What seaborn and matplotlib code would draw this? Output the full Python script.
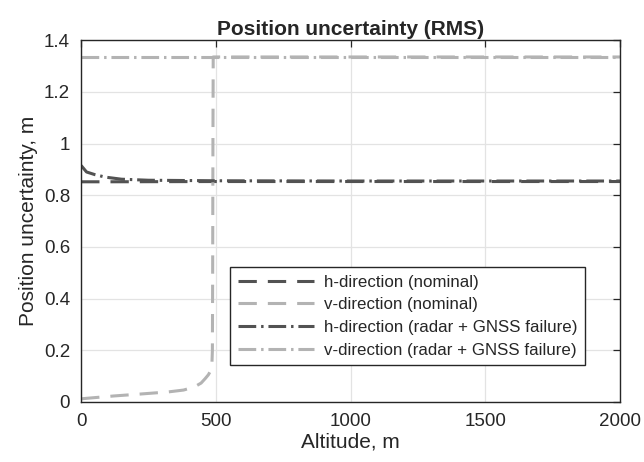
"""Position uncertainty (RMS) versus altitude."""

import matplotlib

matplotlib.use("Agg")
import matplotlib.pyplot as plt
import pandas as pd
import seaborn as sns

# altitude samples (m) and RMS uncertainty values
alt_h_nom = [0, 100, 500, 1000, 1500, 2000]
h_nom = [0.852, 0.852, 0.853, 0.853, 0.853, 0.853]

alt_v_nom = [0, 20, 120, 225, 325, 380, 420, 445, 460, 472, 480, 485, 487,
             488, 489, 490, 500, 1000, 1500, 2000]
v_nom = [0.012, 0.014, 0.023, 0.031, 0.039, 0.046, 0.058, 0.073, 0.09, 0.105,
         0.12, 0.14, 0.2, 0.5, 1.0, 1.335, 1.335, 1.335, 1.335, 1.335]

alt_h_fail = [0, 20, 50, 90, 150, 250, 500, 1000, 1500, 2000]
h_fail = [0.915, 0.89, 0.88, 0.87, 0.862, 0.858, 0.856, 0.855, 0.855, 0.855]

alt_v_fail = [0, 500, 1000, 1500, 2000]
v_fail = [1.335, 1.335, 1.335, 1.335, 1.335]

labels = [
    "h-direction (nominal)",
    "v-direction (nominal)",
    "h-direction (radar + GNSS failure)",
    "v-direction (radar + GNSS failure)",
]

sns.set_theme(style="white")
plt.rcParams["font.family"] = ["Liberation Sans", "DejaVu Sans"]

dark = "#525252"
light = "#b3b3b3"
dashed = (0, (6, 3.6))
dashdot = (0, (5.8, 1.6, 0.8, 1.6))
series = [
    (alt_h_nom, h_nom, labels[0], dark, dashed),
    (alt_v_nom, v_nom, labels[1], light, dashed),
    (alt_h_fail, h_fail, labels[2], dark, dashdot),
    (alt_v_fail, v_fail, labels[3], light, dashdot),
]

fig, ax = plt.subplots(figsize=(6.44, 4.62), dpi=100)
fig.subplots_adjust(left=0.126, right=0.963, top=0.913, bottom=0.130)

for x, y, lab, col, ls in series:
    df = pd.DataFrame({"alt": x, "unc": y})
    sns.lineplot(data=df, x="alt", y="unc", ax=ax, color=col, linewidth=2.2,
                 linestyle=ls, label=lab, sort=False)

ax.set_xlim(0, 2000)
ax.set_ylim(0, 1.4)
ax.set_xticks([0, 500, 1000, 1500, 2000])
ax.set_yticks([0, 0.2, 0.4, 0.6, 0.8, 1.0, 1.2, 1.4])
ax.set_yticklabels(["0", "0.2", "0.4", "0.6", "0.8", "1", "1.2", "1.4"])
ax.grid(True, color="#e3e3e3", linewidth=0.9)
ax.tick_params(direction="in", length=5, width=0.9, top=True, right=True,
               labelsize=13.5, colors="#262626", pad=8)
for sp in ax.spines.values():
    sp.set_color("#262626")
    sp.set_linewidth(1.0)

ax.set_title("Position uncertainty (RMS)", fontsize=15, fontweight="bold", pad=4)
ax.set_xlabel("Altitude, m", fontsize=15, color="#262626", labelpad=2)
ax.set_ylabel("Position uncertainty, m", fontsize=15, color="#262626", labelpad=4)

leg = ax.legend(loc="upper left", bbox_to_anchor=(230 / 644, 1 - 267 / 462),
                bbox_transform=fig.transFigure, fontsize=12.2,
                frameon=True, fancybox=False, edgecolor="#262626",
                handlelength=4.5, handletextpad=0.6, labelspacing=0.45,
                borderpad=0.45, borderaxespad=0)
leg.get_frame().set_linewidth(1.0)
leg.get_frame().set_alpha(1)

fig.savefig("out.png", dpi=100)
plt.close(fig)
